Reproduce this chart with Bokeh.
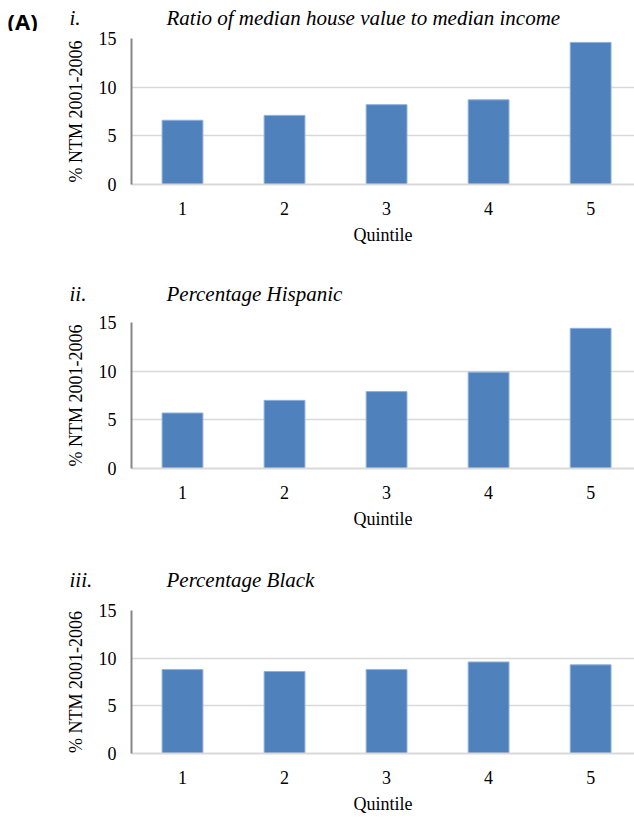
from bokeh.plotting import figure
from bokeh.layouts import column
from bokeh.models import Range1d, FixedTicker
from bokeh.core.properties import value
from bokeh.embed import file_html
from bokeh.resources import INLINE

quintiles = [1, 2, 3, 4, 5]
ratio_income = [6.6, 7.1, 8.2, 8.7, 14.6]
pct_hispanic = [5.7, 7.0, 7.9, 9.9, 14.4]
pct_black = [8.8, 8.6, 8.8, 9.6, 9.3]
y_ticks = [0, 5, 10, 15]
romans = ["i.", "ii.", "iii."]
titles = ["Ratio of median house value to median income", "Percentage Hispanic", "Percentage Black"]
series = [ratio_income, pct_hispanic, pct_black]

SERIF = "Liberation Serif"
W = 634
FRAME_H = 146
# (header height, header text centre y, chart top border, chart bottom border)
geometry = [(31, 13.5, 7, 78), (53, 22, 7, 78), (57, 24, 7, 60)]

items = []
for idx in range(3):
    hh, mid, top, bot = geometry[idx]
    hdr = figure(width=W, height=hh, output_backend="svg", toolbar_location=None,
                 x_range=Range1d(0, W), y_range=Range1d(0, hh),
                 x_axis_type=None, y_axis_type=None, title_location=None,
                 min_border=0)
    hdr.frame_align = False
    hdr.outline_line_color = None
    hdr.text(x=[69], y=[mid], text=[romans[idx]], text_font=value(SERIF),
             text_font_style="italic", text_font_size="21px",
             text_baseline="middle", text_color="black")
    hdr.text(x=[166], y=[mid], text=[titles[idx]], text_font=value(SERIF),
             text_font_style="italic", text_font_size="21px",
             text_baseline="middle", text_color="black")
    if idx == 0:
        hdr.text(x=[7], y=[hh - 20], text=["(A)"], text_font=value("Open Sans"),
                 text_font_style="bold", text_font_size="22px",
                 text_baseline="middle", text_color="black")
    items.append(hdr)

    p = figure(width=W, height=top + FRAME_H + bot, output_backend="svg",
               toolbar_location=None, title_location=None,
               x_range=Range1d(0.5, 5.43), y_range=Range1d(0, 15),
               min_border_left=131, min_border_right=0, min_border_top=top,
               min_border_bottom=bot)
    p.outline_line_color = None
    p.vbar(x=quintiles, top=series[idx], width=0.4, fill_color="#4F81BD",
           line_color="#8FB0DA", line_width=1)
    p.xgrid.grid_line_color = None
    p.ygrid.grid_line_color = "#D9D9D9"
    p.ygrid.grid_line_width = 1.5
    p.ygrid.ticker = FixedTicker(ticks=y_ticks)
    p.yaxis.ticker = FixedTicker(ticks=y_ticks)
    p.xaxis.ticker = FixedTicker(ticks=quintiles)
    for ax in (p.xaxis, p.yaxis):
        ax.major_tick_line_color = None
        ax.minor_tick_line_color = None
        ax.major_label_text_font = SERIF
        ax.major_label_text_font_size = "18px"
        ax.major_label_text_color = "black"
        ax.axis_label_text_font = SERIF
        ax.axis_label_text_font_size = "18px"
        ax.axis_label_text_font_style = "normal"
        ax.axis_label_text_color = "black"
    p.yaxis.axis_line_color = "#868686"
    p.yaxis.axis_line_width = 2
    p.xaxis.axis_line_color = "#D9D9D9"
    p.xaxis.axis_line_width = 2
    p.yaxis.axis_label = "% NTM 2001-2006"
    p.yaxis.major_label_standoff = 9
    p.yaxis.axis_label_standoff = 10
    p.xaxis.axis_label = "Quintile"
    p.xaxis.major_label_standoff = 11
    p.xaxis.axis_label_standoff = 7
    items.append(p)

layout = column(*items, spacing=0)
open("out.html", "w").write(file_html(layout, INLINE))
